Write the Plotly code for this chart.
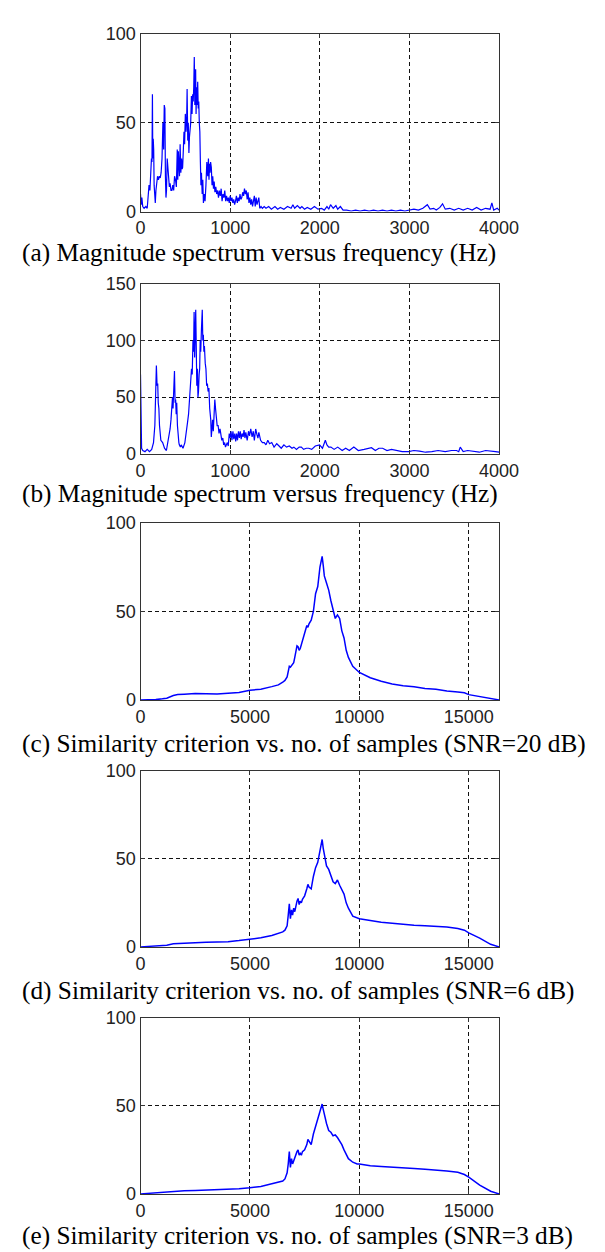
import plotly.graph_objects as go

# (a) magnitude spectrum, clean signal
freq_a = [0, 8, 15, 25, 40, 60, 75, 85, 95, 105, 115, 122, 128, 133, 137, 142, 147, 152, 158, 165,
          172, 180, 190, 200, 210, 220, 230, 240, 250, 258, 265, 272, 278, 284, 290, 298, 305, 311, 316, 322,
          330, 340, 350, 360, 370, 380, 390, 400, 410, 416, 422, 428, 435, 442, 450, 458, 464, 470, 478, 485,
          492, 500, 508, 515, 520, 527, 533, 540, 546, 552, 560, 568, 575, 582, 588, 594, 600, 606, 610, 615,
          620, 626, 632, 638, 644, 650, 656, 662, 668, 674, 680, 688, 695, 702, 710, 720, 730, 740, 750, 758,
          764, 770, 776, 782, 790, 798, 806, 814, 822, 830, 840, 850, 860, 870, 880, 890, 900, 910, 920, 930,
          940, 950, 960, 970, 980, 990, 1000, 1010, 1020, 1030, 1040, 1050, 1060, 1070, 1080, 1090, 1100, 1110,
          1120, 1130, 1140, 1150, 1160, 1170, 1180, 1190, 1200, 1210, 1220, 1230, 1240, 1250, 1260, 1270, 1280,
          1290, 1300, 1320, 1330, 1345, 1360, 1380, 1400, 1430, 1460, 1500, 1530, 1560, 1600, 1640, 1680, 1700,
          1720, 1750, 1780, 1800, 1830, 1860, 1900, 1940, 1980, 2020, 2050, 2080, 2100, 2120, 2150, 2180, 2200,
          2230, 2260, 2300, 2350, 2400, 2450, 2500, 2550, 2600, 2650, 2700, 2750, 2800, 2850, 2900, 2950, 3000,
          3050, 3100, 3150, 3200, 3230, 3270, 3300, 3340, 3370, 3400, 3450, 3500, 3550, 3600, 3650, 3700, 3750,
          3800, 3850, 3900, 3920, 3940, 3980, 4000]
mag_a = [10, 4, 8, 3, 2, 3, 2, 10, 15, 12, 20, 30, 28, 66, 30, 41, 35, 15, 8, 5,
         12, 16, 20, 18, 20, 19, 22, 30, 50, 35, 60, 58, 20, 8, 12, 30, 25, 18, 15, 14,
         16, 12, 12, 15, 12, 20, 18, 14, 35, 18, 34, 25, 20, 38, 22, 30, 24, 25, 35, 45,
         38, 55, 45, 52, 69, 40, 50, 33, 42, 45, 50, 65, 55, 66, 62, 70, 87, 60, 62, 80,
         55, 70, 60, 73, 58, 62, 50, 45, 28, 15, 22, 10, 18, 5, 10, 6, 15, 28, 20, 30,
         18, 27, 22, 28, 25, 15, 20, 13, 17, 11, 14, 10, 12, 8, 12, 9, 13, 6, 10, 8,
         12, 6, 9, 6, 8, 5, 9, 6, 8, 5, 7, 4, 6, 9, 5, 8, 6, 10,
         7, 8, 11, 9, 13, 10, 12, 7, 11, 5, 8, 4, 7, 3, 6, 9, 3,
         8, 4, 8, 2, 3, 2, 3, 2, 3, 1.5, 3, 1.5, 2.5, 1.5, 3, 2, 4,
         2, 3.5, 2, 3, 1.5, 2.5, 1.5, 3, 1.5, 2, 1, 3, 1.5, 4, 2, 3.5, 1.5,
         3, 1, 1, 0.5, 1, 0.5, 1, 0.5, 1, 0.5, 1, 0.5, 1, 0.5, 1, 0.5, 1,
         1.5, 1, 2, 4, 1.5, 2, 1, 2.5, 4.5, 1.5, 2, 1, 2, 1, 2, 1, 2.5,
         1, 2, 1.5, 5, 1, 2, 1]

# (b) magnitude spectrum, noisy signal
freq_b = [0, 5, 12, 25, 50, 75, 100, 125, 145, 160, 168, 177, 185, 192, 198, 205, 212, 227, 247, 268,
          289, 309, 320, 330, 340, 350, 357, 363, 370, 379, 386, 392, 398, 404, 412, 420, 428, 433, 445, 454,
          474, 495, 505, 515, 525, 536, 545, 557, 565, 569, 577, 585, 592, 598, 604, 610, 616, 622, 628, 635,
          641, 647, 654, 660, 666, 672, 680, 689, 695, 701, 707, 713, 722, 730, 738, 746, 754, 763, 772, 784,
          790, 796, 804, 812, 820, 829, 837, 845, 855, 866, 876, 887, 897, 907, 918, 928, 938, 948, 958, 969,
          979, 990, 1000, 1010, 1020, 1031, 1041, 1052, 1062, 1072, 1082, 1093, 1103, 1113, 1123, 1134, 1145,
          1155, 1165, 1175, 1190, 1205, 1216, 1230, 1245, 1258, 1270, 1285, 1299, 1310, 1320, 1330, 1340, 1360,
          1381, 1400, 1420, 1440, 1464, 1490, 1520, 1546, 1570, 1600, 1629, 1660, 1690, 1711, 1740, 1770, 1794,
          1820, 1850, 1876, 1910, 1950, 1998, 2030, 2062, 2080, 2100, 2124, 2160, 2200, 2250, 2289, 2330, 2380,
          2430, 2495, 2540, 2577, 2620, 2660, 2701, 2750, 2800, 2866, 2920, 2990, 3050, 3113, 3180, 3250, 3320,
          3400, 3470, 3526, 3550, 3567, 3600, 3650, 3711, 3780, 3850, 3918, 3960, 4000]
mag_b = [70, 12, 5, 3, 2, 4, 2, 4, 10, 25, 45, 78, 60, 62, 45, 40, 25, 12, 10, 5,
         3, 12, 18, 22, 30, 42, 50, 40, 50, 73, 45, 48, 35, 45, 25, 12, 10, 8, 6, 8,
         5, 10, 15, 20, 28, 35, 45, 55, 62, 75, 70, 100, 90, 125, 85, 110, 127, 95, 60, 75,
         50, 55, 70, 75, 100, 90, 110, 127, 100, 105, 90, 95, 80, 75, 60, 62, 55, 58, 40, 30,
         15, 25, 30, 20, 35, 48, 40, 35, 25, 25, 18, 22, 15, 12, 14, 8, 10, 6, 8, 10,
         7, 18, 14, 20, 12, 20, 13, 18, 11, 18, 12, 20, 14, 20, 13, 18, 15,
         21, 14, 19, 12, 20, 16, 22, 15, 20, 12, 22, 17, 14, 19, 15, 12, 10,
         10, 8, 12, 9, 10, 6, 9, 7, 5, 8, 6, 7, 5, 6, 4, 6, 6,
         4, 5, 5, 4, 7, 8, 5, 12, 8, 6, 6, 4, 6, 3, 5, 3, 6,
         3, 4, 5, 5.5, 3, 5, 5, 3, 4, 3, 2, 2, 3, 2.5, 1.5, 2, 3,
         2, 3, 3, 2, 6, 2, 3, 2.5, 1.5, 3, 2, 2, 1.5]

# (c)-(e) similarity criterion vs. number of samples
samples = [0, 300, 700, 1000, 1200, 1500, 1700, 2000, 2500, 3000,
           3500, 4000, 4500, 5000, 5300, 5500, 6000, 6300, 6500, 6600,
           6700, 6750, 6800, 6850, 6900, 6950, 7000, 7050, 7100, 7150,
           7200, 7250, 7300, 7350, 7400, 7500, 7600, 7650, 7700, 7800,
           7900, 8000, 8100, 8200, 8250, 8300, 8350, 8400, 8500, 8600,
           8700, 8800, 8900, 9000, 9100, 9200, 9300, 9400, 9500, 9700,
           9900, 10000, 10500, 11000, 11500, 12000, 12500, 13000, 13500, 14000,
           14500, 14800, 15000, 15500, 16000, 16384]
sim_c = [0, 0, 0.2, 0.6, 1, 2.5, 3, 3.2, 3.6, 3.5,
         3.3, 3.8, 4.2, 5.5, 5.8, 6, 7.5, 8.5, 10, 11,
         13, 17, 19, 18.5, 19.5, 20, 21, 24, 28, 30.5,
         30, 28, 29, 31, 33, 38, 42, 41, 43, 45,
         50, 60, 64, 75, 78, 81, 76, 70, 66, 62,
         56, 50, 46, 48, 46, 39, 35, 28, 24, 19,
         16.5, 15.5, 12.5, 10.5, 9, 8, 7.5, 6.5, 6, 5,
         4.5, 4, 3, 1.8, 0.5, 0]
sim_d = [0, 0.3, 0.4, 0.6, 1, 1.8, 2, 2.2, 2.4, 2.6,
         2.7, 3, 3.6, 4.5, 4.8, 5.2, 6.5, 7.5, 8.5, 9.5,
         12, 18, 24.5, 16, 21, 18, 22, 20, 24, 26,
         27.5, 24, 26, 25, 27, 29, 33, 35.5, 34, 33,
         40, 45, 48, 55, 58, 61, 56, 52, 46, 44,
         40, 37, 36, 38, 35, 32, 30, 25, 22, 17.5,
         16.5, 16, 15, 14, 13.5, 12.8, 12.3, 12, 11.8, 11.3,
         10.5, 9.5, 8, 5, 1.5, 0]
sim_e = [0, 0.3, 0.5, 0.7, 1, 1.5, 1.7, 1.8, 2, 2.2,
         2.4, 2.7, 3, 3.5, 3.8, 4.2, 5.8, 6.5, 7.3, 8.5,
         12, 17, 24, 15, 20, 17, 19, 21, 22, 24,
         25, 22, 23, 22, 24, 25, 28, 31, 30, 28,
         34, 38, 42, 46, 48, 51, 48, 45, 40, 36,
         35, 33, 33.5, 32, 30, 28, 25, 22, 20, 18,
         17, 17, 16, 15.5, 15, 14.7, 14.4, 14, 13.7, 13,
         12.3, 11, 9.5, 5, 1.5, 0]

captions = [
    "(a) Magnitude spectrum versus frequency (Hz)",
    "(b) Magnitude spectrum versus frequency (Hz)",
    "(c) Similarity criterion vs. no. of samples (SNR=20 dB)",
    "(d) Similarity criterion vs. no. of samples (SNR=6 dB)",
    "(e) Similarity criterion vs. no. of samples (SNR=3 dB)",
]

W, H = 605, 1252
# panel pixel boxes (top, bottom) measured from the top of the page
boxes = [(16, 197), (270, 443), (513, 693), (765, 944), (1016, 1195)]
caption_y = [238, 483, 737, 988, 1237]
x_left, x_right = 133, 507

series = [
    (freq_a, mag_a, [0, 4000], [0, 1000, 2000, 3000, 4000], [0, 100], [0, 50, 100], 1.2),
    (freq_b, mag_b, [0, 4000], [0, 1000, 2000, 3000, 4000], [0, 150], [0, 50, 100, 150], 1.2),
    (samples, sim_c, [0, 16384], [0, 5000, 10000, 15000], [0, 100], [0, 50, 100], 1.5),
    (samples, sim_d, [0, 16384], [0, 5000, 10000, 15000], [0, 100], [0, 50, 100], 1.5),
    (samples, sim_e, [0, 16384], [0, 5000, 10000, 15000], [0, 100], [0, 50, 100], 1.5),
]

fig = go.Figure()
layout = {}
tick_font = dict(family="Liberation Sans, Arial", size=18, color="#222")

for i, (xs, ys, xr, xt, yr, yt, lw) in enumerate(series):
    n = "" if i == 0 else str(i + 1)
    fig.add_trace(go.Scatter(x=xs, y=ys, mode="lines",
                             line=dict(color="#0000FF", width=lw),
                             xaxis="x" + n, yaxis="y" + n, showlegend=False))
    top, bot = boxes[i]
    common = dict(showline=True, mirror="ticks", linecolor="#333", linewidth=1,
                  ticks="inside", ticklen=4, tickcolor="#333",
                  showgrid=True, gridcolor="#111", gridwidth=1, griddash="4px,3px",
                  zeroline=False, tickfont=tick_font, fixedrange=True)
    layout["xaxis" + n] = dict(common, domain=[x_left / W, x_right / W], range=xr,
                               tickmode="array", tickvals=xt, ticktext=[str(v) for v in xt],
                               anchor="y" + n)
    layout["yaxis" + n] = dict(common, domain=[1 - bot / H, 1 - top / H], range=yr,
                               tickmode="array", tickvals=yt, ticktext=[str(v) for v in yt],
                               anchor="x" + n)
    fig.add_annotation(text=captions[i], xref="paper", yref="paper",
                       x=7 / W, y=1 - caption_y[i] / H, xanchor="left", yanchor="middle",
                       showarrow=False,
                       font=dict(family="Liberation Serif, Times New Roman", size=25.3, color="black"))

fig.update_layout(**layout)
fig.update_layout(width=W, height=H, margin=dict(l=0, r=0, t=0, b=0),
                  plot_bgcolor="white", paper_bgcolor="white")

fig.write_html("out.html")
